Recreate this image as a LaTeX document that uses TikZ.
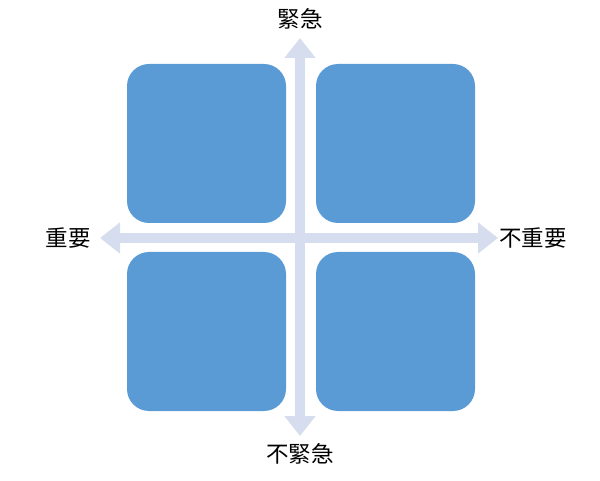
\documentclass[tikz,border=0pt]{standalone}
\usepackage{fontspec}
\newfontfamily\cjk{Noto Sans CJK TC}
\usetikzlibrary{arrows.meta}
\definecolor{boxblue}{HTML}{5B9BD5}
\definecolor{axisc}{HTML}{D6DDEE}
\tikzset{
  quad/.style={fill=boxblue, draw=none, rounded corners=22pt, minimum width=159pt, minimum height=159pt, inner sep=0pt},
  lab/.style={font=\cjk\fontsize{22.5}{26}\selectfont, inner sep=0pt, text=black},
  axis/.style={draw=axisc, line width=10pt, {Triangle[width=30pt,length=20pt]}-{Triangle[width=30pt,length=20pt]}}
}
\begin{document}
\begin{tikzpicture}[x=1pt,y=-1pt]
\useasboundingbox (0,0) rectangle (600,481);
\coordinate (ttop) at (300,38);
\coordinate (tbot) at (300,436);
\coordinate (tleft) at (100,238);
\coordinate (tright) at (498,238);
\draw[axis] (tbot) -- (ttop);
\draw[axis] (tleft) -- (tright);
\node[quad] (q1) at (206.5,143.5) {};
\node[quad] (q2) at (395.5,143.5) {};
\node[quad] (q3) at (206.5,331.5) {};
\node[quad] (q4) at (395.5,331.5) {};
\node[lab] (urg) at (300,19) {緊急};
\node[lab] (nurg) at (300,454) {不緊急};
\node[lab] (imp) at (68,238) {重要};
\node[lab, anchor=west] (nimp) at (499,238) {不重要};
\end{tikzpicture}
\end{document}
